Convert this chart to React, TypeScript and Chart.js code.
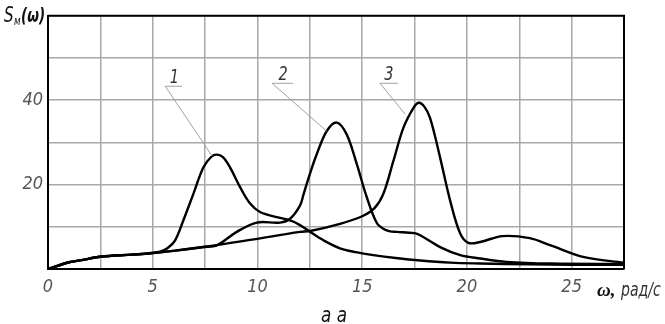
import React, { useEffect, useRef } from "react";
import { Chart, registerables } from "chart.js";

Chart.register(...registerables);

// ω (rad/s) and S(ω) values
const curve1X = [0, 1, 1.6, 2.5, 4, 4.9, 5.35, 5.7, 6.07, 6.46, 6.94, 7.42, 7.8, 8.06, 8.35, 8.69, 9.17, 9.65, 10.12, 10.92, 11.56, 12.03, 12.51, 13.15, 13.94, 14.7, 15.53, 16.6, 17.77, 19.2, 20.63, 23, 25, 27.5];
const curve1Y = [0, 1.6, 2.1, 2.9, 3.4, 3.8, 4.1, 4.9, 6.8, 11.5, 17.8, 24.1, 26.6, 27.1, 26.5, 24.1, 19.4, 15.5, 13.5, 12.3, 11.5, 10.4, 8.8, 6.8, 4.9, 4.0, 3.3, 2.6, 2.0, 1.5, 1.3, 1.1, 1.0, 1.0];

const curve2X = [0, 1, 1.6, 2.5, 4, 4.9, 6, 7.42, 8.06, 9.01, 9.97, 11.08, 11.56, 12.03, 12.19, 12.5, 12.83, 13.31, 13.79, 14.26, 14.74, 15.22, 15.7, 16.05, 16.33, 16.65, 17.5, 17.77, 18.72, 19.68, 20.63, 21.9, 24, 27.5];
const curve2Y = [0, 1.6, 2.1, 2.9, 3.4, 3.7, 4.3, 5.2, 5.6, 8.8, 11.0, 11.0, 11.9, 15.0, 17.5, 22.5, 27.2, 32.7, 34.7, 31.9, 24.9, 17.0, 10.9, 9.4, 8.9, 8.8, 8.5, 8.0, 5.2, 3.3, 2.5, 1.7, 1.3, 1.2];

const curve3X = [0, 1, 1.6, 2.5, 4, 4.9, 6, 7.42, 9.65, 12.03, 12.51, 13.94, 15.0, 15.6, 16.01, 16.49, 16.97, 17.45, 17.69, 17.95, 18.24, 18.72, 19.2, 19.68, 20.07, 20.63, 21.7, 23, 24, 25.6, 27.5];
const curve3Y = [0, 1.6, 2.1, 2.9, 3.4, 3.7, 4.3, 5.2, 6.9, 8.8, 9.0, 10.7, 12.5, 14.5, 17.8, 25.6, 33.5, 38.2, 39.4, 38.6, 35.8, 26.4, 16.2, 8.4, 6.2, 6.4, 7.8, 7.3, 5.6, 2.8, 1.5];

// curve number labels: text, label x/y, underline x-range, leader end point (data units)
const markTexts = ["1", "2", "3"];
const markX = [6.0, 11.2, 16.25];
const markY = [45.4, 46.2, 46.2];
const underlineX0 = [5.6, 10.7, 15.85];
const underlineX1 = [6.4, 11.7, 16.7];
const underlineY = [43.3, 44.0, 44.0];
const leaderEndX = [7.83, 13.3, 17.05];
const leaderEndY = [26.8, 32.7, 36.7];

const xTickValues = [0, 5, 10, 15, 20, 25];
const yTickValues = [20, 40];

const FONT = '"Liberation Sans Narrow", "DejaVu Sans Condensed", "Noto Sans", sans-serif';

const toPoints = (xs: number[], ys: number[]) => xs.map((x, i) => ({ x, y: ys[i] }));

function narrowText(ctx: CanvasRenderingContext2D, text: string, x: number, y: number, sx: number) {
  ctx.save();
  ctx.translate(x, y);
  ctx.scale(sx, 1);
  ctx.fillText(text, 0, 0);
  ctx.restore();
}

export default function App() {
  const ref = useRef<HTMLCanvasElement | null>(null);

  useEffect(() => {
    if (!ref.current) return;
    const extras = {
      id: "extras",
      afterDraw(chart: any) {
        const ctx = chart.ctx as CanvasRenderingContext2D;
        const { left, right, top, bottom } = chart.chartArea;
        const xs = chart.scales.x;
        const ys = chart.scales.y;
        ctx.save();
        // frame top & right
        ctx.strokeStyle = "#000";
        ctx.lineWidth = 2;
        ctx.beginPath();
        ctx.moveTo(left, top);
        ctx.lineTo(right, top);
        ctx.lineTo(right, bottom);
        ctx.stroke();

        // leaders
        ctx.strokeStyle = "#a0a0a0";
        ctx.lineWidth = 1;
        ctx.fillStyle = "#333";
        ctx.font = `italic 19px ${FONT}`;
        ctx.textAlign = "left";
        ctx.textBaseline = "alphabetic";
        for (let i = 0; i < markTexts.length; i++) {
          const ux0 = xs.getPixelForValue(underlineX0[i]);
          const ux1 = xs.getPixelForValue(underlineX1[i]);
          const uy = ys.getPixelForValue(underlineY[i]);
          ctx.beginPath();
          ctx.moveTo(ux1, uy);
          ctx.lineTo(ux0, uy);
          ctx.lineTo(xs.getPixelForValue(leaderEndX[i]), ys.getPixelForValue(leaderEndY[i]));
          ctx.stroke();
          narrowText(ctx, markTexts[i], xs.getPixelForValue(markX[i]) - 4, ys.getPixelForValue(markY[i]) + 6, 0.85);
        }

        // title S_м(ω)
        ctx.fillStyle = "#111";
        ctx.font = `italic 21px ${FONT}`;
        narrowText(ctx, "S", 4, 22, 0.8);
        ctx.font = `italic 12px ${FONT}`;
        narrowText(ctx, "м", 14, 25, 0.8);
        ctx.font = `italic bold 20px ${FONT}`;
        narrowText(ctx, "(ω)", 21, 22, 0.75);

        // x axis title
        ctx.font = `italic bold 19px "Liberation Serif", "DejaVu Serif", serif`;
        ctx.fillText("ω,", 597, 296);
        ctx.font = `italic 20px ${FONT}`;
        ctx.fillStyle = "#333";
        narrowText(ctx, "рад/с", 621, 296, 0.78);

        // caption
        ctx.fillStyle = "#111";
        ctx.font = `italic 22px ${FONT}`;
        narrowText(ctx, "а а", 321, 322, 0.85);
        ctx.restore();
      },
    };

    const lineStyle = {
      borderColor: "#000",
      borderWidth: 2.4,
      pointRadius: 0,
      fill: false,
      tension: 0.35,
    };

    const chart = new Chart(ref.current, {
      type: "line",
      data: {
        datasets: [
          { label: "1", data: toPoints(curve1X, curve1Y), ...lineStyle },
          { label: "2", data: toPoints(curve2X, curve2Y), ...lineStyle },
          { label: "3", data: toPoints(curve3X, curve3Y), ...lineStyle },
        ],
      },
      options: {
        animation: false,
        responsive: false,
        layout: { padding: { top: 14, right: 41, left: 0, bottom: 0 } },
        plugins: { legend: { display: false }, tooltip: { enabled: false } },
        scales: {
          x: {
            type: "linear",
            min: 0,
            max: 27.5,
            afterFit: (s: any) => { s.height = 55; },
            ticks: {
              stepSize: 2.5,
              autoSkip: false,
              maxRotation: 0,
              padding: 8,
              color: "#555",
              font: { family: FONT, size: 18, style: "italic" },
              callback: (v: any) => (xTickValues.includes(Number(v)) ? String(v) : ""),
            },
            grid: { color: "#a8a8a8", lineWidth: 1.5, drawTicks: false },
            border: { color: "#000", width: 2 },
          },
          y: {
            type: "linear",
            min: 0,
            max: 60,
            afterFit: (s: any) => { s.width = 48; },
            ticks: {
              stepSize: 10,
              autoSkip: false,
              padding: 5,
              color: "#555",
              font: { family: FONT, size: 18, style: "italic" },
              callback: (v: any) => (yTickValues.includes(Number(v)) ? String(v) : ""),
            },
            grid: { color: "#a8a8a8", lineWidth: 1.5, drawTicks: false },
            border: { color: "#000", width: 2 },
          },
        },
      },
      plugins: [extras],
    });
    return () => chart.destroy();
  }, []);

  return (
    <div style={{ position: "fixed", left: 0, top: 0, width: 665, height: 324, background: "#fff" }}>
      <canvas ref={ref} width={665} height={324} style={{ width: 665, height: 324, display: "block" }} />
    </div>
  );
}
